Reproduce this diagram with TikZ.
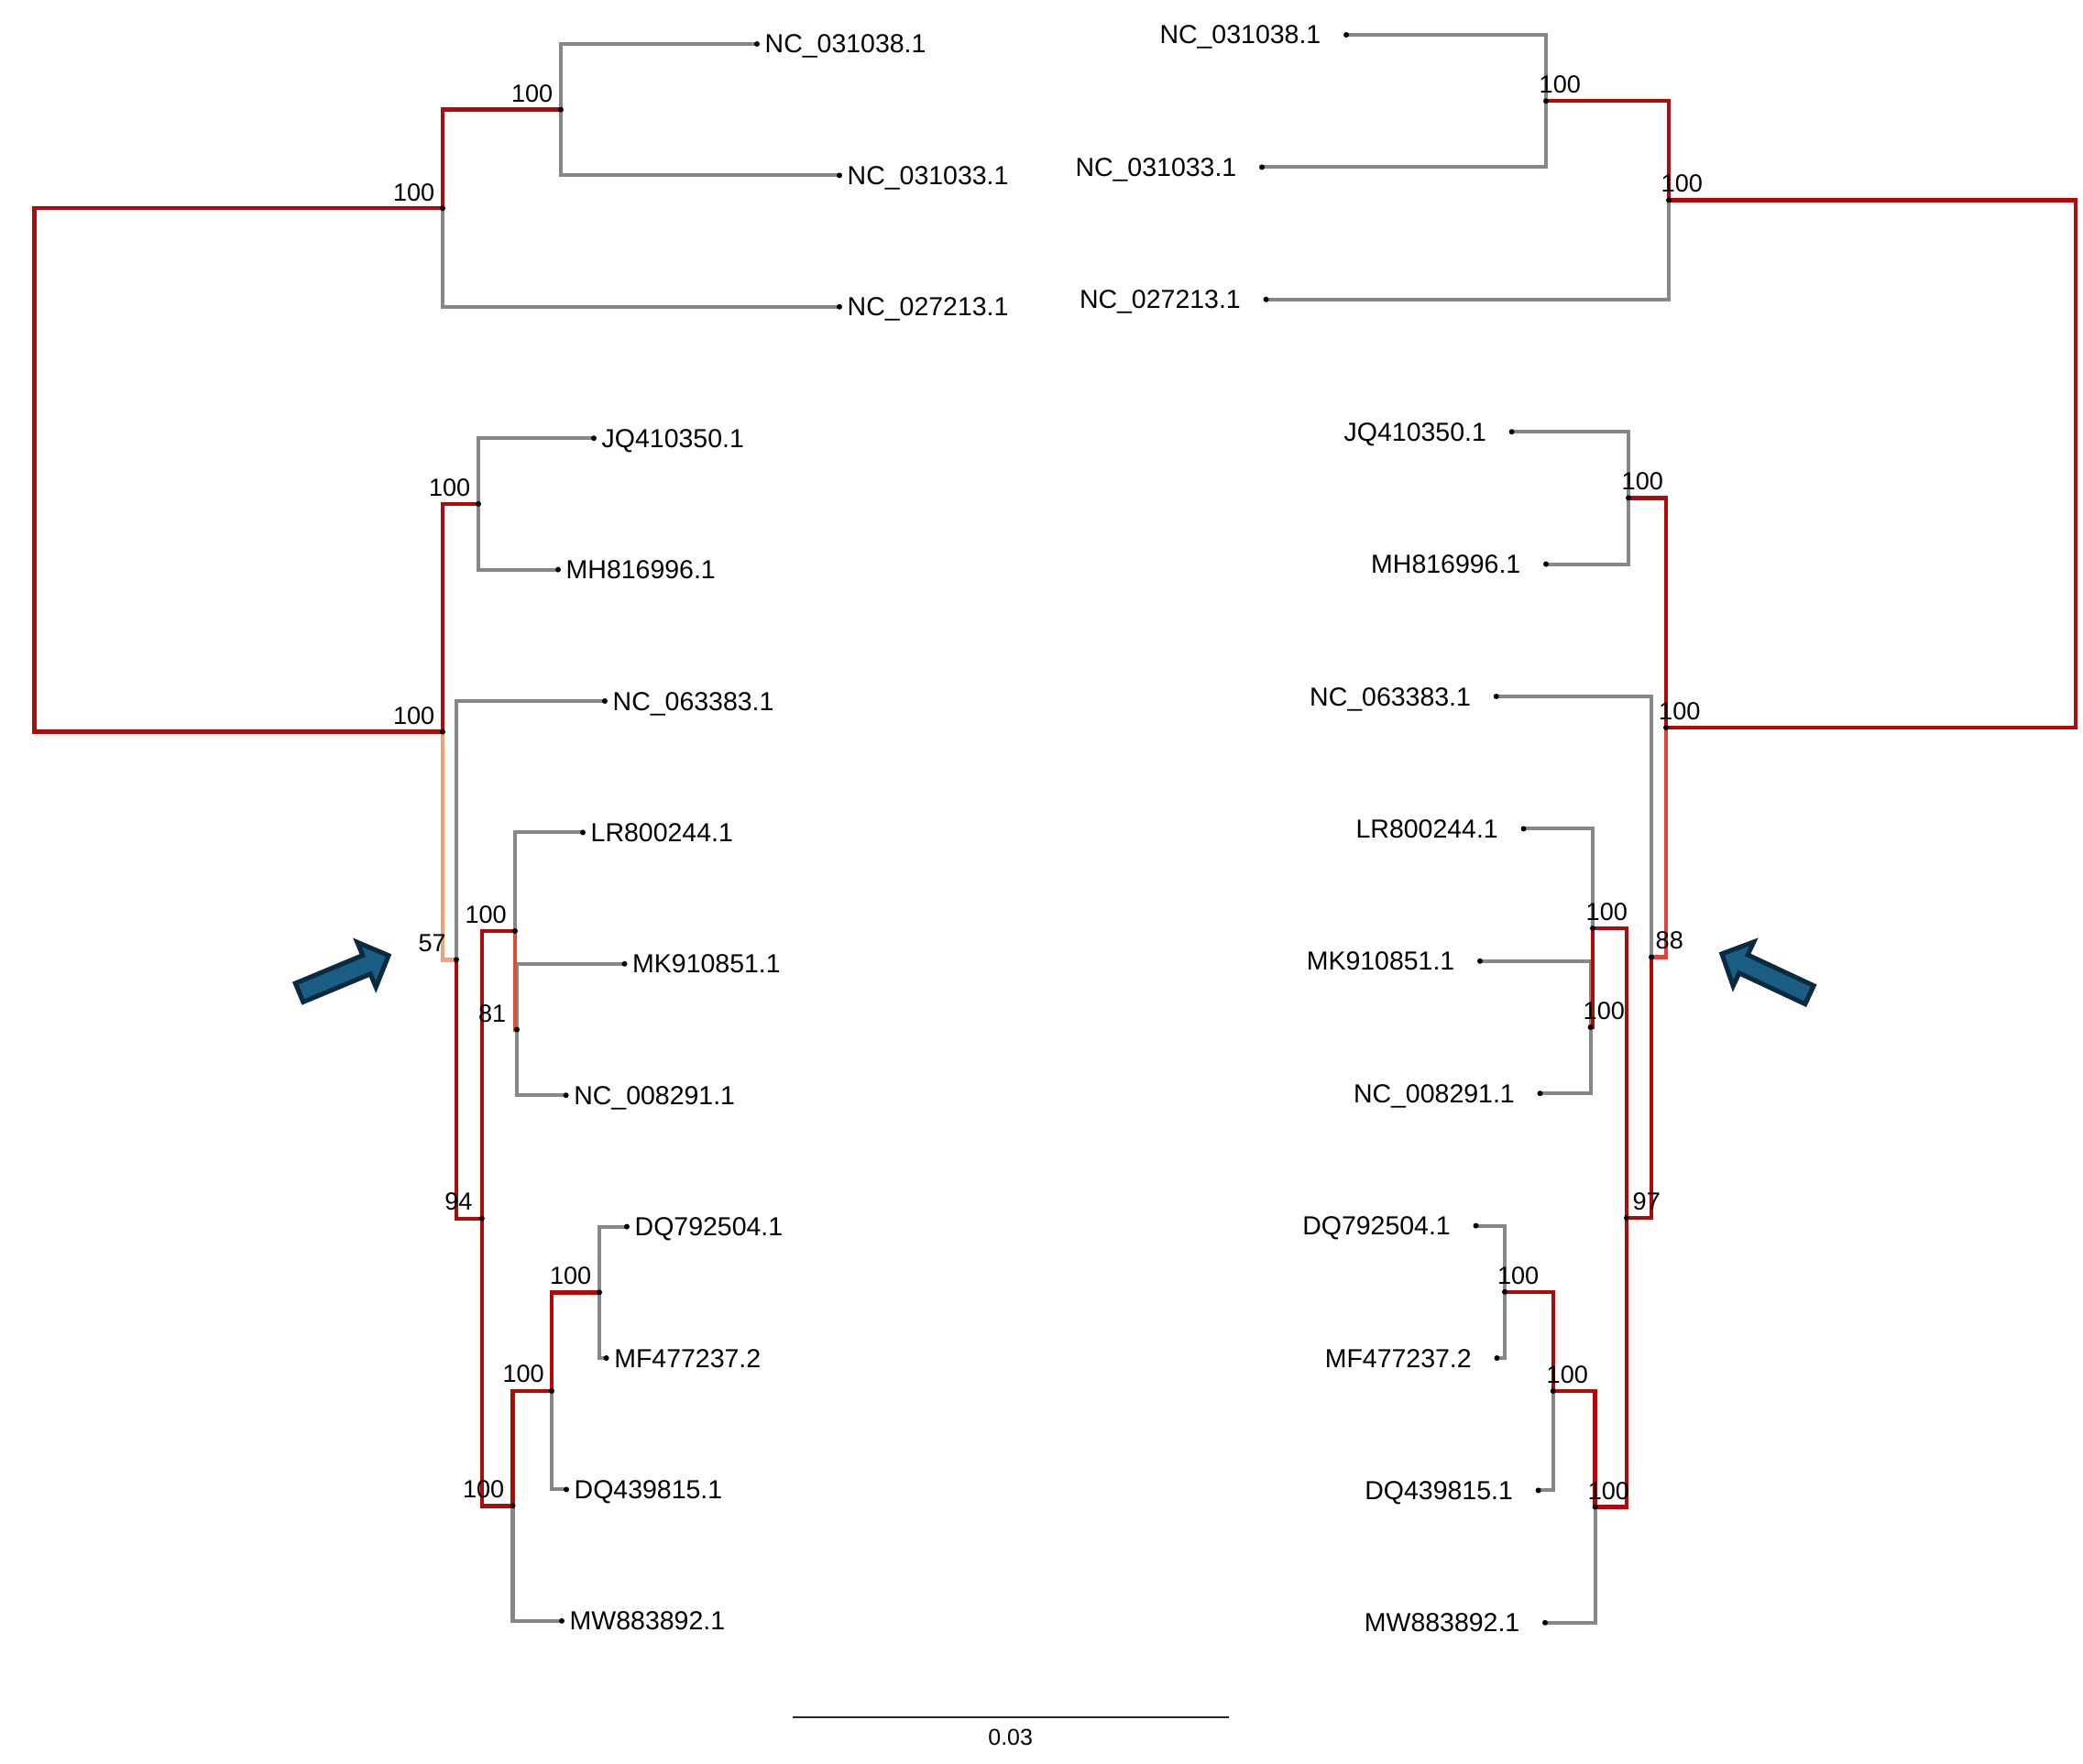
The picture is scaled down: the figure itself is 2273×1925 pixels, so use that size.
\documentclass[tikz,border=0pt]{standalone}
\usepackage{fontspec}
\setmainfont{Liberation Sans}
\definecolor{treered}{HTML}{B00A0A}
\definecolor{treegray}{HTML}{878787}
\definecolor{salmonb}{HTML}{F2A272}
\definecolor{orangeb}{HTML}{DE4E30}
\definecolor{lightred}{HTML}{DE4238}
\definecolor{arrowfill}{HTML}{1B5E84}
\definecolor{arrowline}{HTML}{0B2A3F}
\begin{document}
\begin{tikzpicture}[x=0.01cm,y=-0.01cm,
  rb/.style={line width=1.25pt, draw=treered},
  gb/.style={line width=1.15pt, draw=treegray},
  sb/.style={line width=1.25pt, draw=salmonb},
  ob/.style={line width=1.25pt, draw=orangeb},
  lb/.style={line width=1.25pt, draw=lightred},
  leafL/.style={anchor=base west, inner sep=0pt, font=\fontsize{8.1}{9.7}\selectfont},
  leafR/.style={anchor=base east, inner sep=0pt, font=\fontsize{8.1}{9.7}\selectfont},
  supL/.style={anchor=base east, inner sep=0pt, font=\fontsize{7.7}{9}\selectfont},
  supR/.style={anchor=base west, inner sep=0pt, font=\fontsize{7.7}{9}\selectfont},
  bigarrow/.style={fill=arrowfill, draw=arrowline, line width=1.45pt, line join=miter}]
\useasboundingbox (0,0) rectangle (2273,1925);

% ---------------- left tree ----------------
\coordinate (LR) at (37.5,513);
\coordinate (LA) at (483,227.3);
\coordinate (LB) at (612,119.7);
\coordinate (LC) at (483,798.6);
\coordinate (LD) at (522,549.9);
\coordinate (LE) at (498,1047.3);
\coordinate (LF) at (525.8,1329.7);
\coordinate (LG) at (562,1016);
\coordinate (LH) at (564,1123.5);
\coordinate (LI) at (559.5,1643.3);
\coordinate (LJ) at (602,1517.9);
\coordinate (LK) at (654,1410.3);
\coordinate (l1) at (826,48);
\coordinate (l2) at (916,191.4);
\coordinate (l3) at (916,334.8);
\coordinate (l4) at (648,478.2);
\coordinate (l5) at (609,621.6);
\coordinate (l6) at (660,765);
\coordinate (l7) at (636,908.4);
\coordinate (l8) at (681.5,1051.8);
\coordinate (l9) at (617.6,1195.2);
\coordinate (l10) at (684,1338.6);
\coordinate (l11) at (661.6,1482);
\coordinate (l12) at (618,1625.4);
\coordinate (l13) at (613,1768.8);

\draw[gb] (LA) |- (l3);
\draw[gb] (LB) |- (l1);
\draw[gb] (LB) |- (l2);
\draw[gb] (LD) |- (l4);
\draw[gb] (LD) |- (l5);
\draw[gb] (LE) |- (l6);
\draw[gb] (LG) |- (l7);
\draw[gb] (LH) |- (l8);
\draw[gb] (LH) |- (l9);
\draw[gb] (LK) |- (l10);
\draw[gb] (LK) |- (l11);
\draw[gb] (LJ) |- (l12);
\draw[gb] (LI) |- (l13);
\draw[rb] (LR) |- (LA);
\draw[rb] (LR) |- (LC);
\draw[rb] (LA) |- (LB);
\draw[rb] (LC) |- (LD);
\draw[sb] (LC) |- (LE);
\draw[rb] (LE) |- (LF);
\draw[rb] (LF) |- (LG);
\draw[ob] (LG) |- (LH);
\draw[rb] (LF) |- (LI);
\draw[rb] (LI) |- (LJ);
\draw[rb] (LJ) |- (LK);

\foreach \c in {LA,LB,LC,LD,LE,LF,LG,LH,LI,LJ,LK,l1,l2,l3,l4,l5,l6,l7,l8,l9,l10,l11,l12,l13}
  \fill (\c) circle[radius=0.3mm];

\foreach \c/\t in {l1/NC\_031038.1,l2/NC\_031033.1,l3/NC\_027213.1,l4/JQ410350.1,
  l5/MH816996.1,l6/NC\_063383.1,l7/LR800244.1,l8/MK910851.1,l9/NC\_008291.1,
  l10/DQ792504.1,l11/MF477237.2,l12/DQ439815.1,l13/MW883892.1}
  \path (\c) ++(8,10) node[leafL] (n\c) {\t};

\path (LA) ++(-8,-8) node[supL] (sLA) {100};
\path (LB) ++(-8,-8) node[supL] (sLB) {100};
\path (LC) ++(-8,-8) node[supL] (sLC) {100};
\path (LD) ++(-8,-8) node[supL] (sLD) {100};
\path (LE) ++(-10.5,-8.5) node[supL] (sLE) {57};
\path (LF) ++(-9.6,-9) node[supL] (sLF) {94};
\path (LG) ++(-8.5,-9) node[supL] (sLG) {100};
\path (LH) ++(-11,-8.5) node[supL] (sLH) {81};
\path (LI) ++(-8.5,-8.5) node[supL] (sLI) {100};
\path (LJ) ++(-7.5,-9.5) node[supL] (sLJ) {100};
\path (LK) ++(-8,-9) node[supL] (sLK) {100};

% ---------------- right tree ----------------
\coordinate (RR) at (2265,506);
\coordinate (RA) at (1821,218.5);
\coordinate (RB) at (1687,110.2);
\coordinate (RC) at (1818,794);
\coordinate (RD) at (1777,543.4);
\coordinate (RE) at (1802,1044.5);
\coordinate (RF) at (1775,1329);
\coordinate (RG) at (1738,1013);
\coordinate (RH) at (1735.5,1121);
\coordinate (RI) at (1740.6,1644.4);
\coordinate (RJ) at (1694.7,1518);
\coordinate (RK) at (1642,1409.8);
\coordinate (r1) at (1469,38);
\coordinate (r2) at (1377,182.4);
\coordinate (r3) at (1381.5,326.8);
\coordinate (r4) at (1649.6,471.2);
\coordinate (r5) at (1687,615.6);
\coordinate (r6) at (1632.7,760);
\coordinate (r7) at (1662.5,904.4);
\coordinate (r8) at (1615,1048.8);
\coordinate (r9) at (1680.5,1193.2);
\coordinate (r10) at (1610.5,1337.6);
\coordinate (r11) at (1633.4,1482);
\coordinate (r12) at (1678.6,1626.4);
\coordinate (r13) at (1686,1770.8);

\draw[gb] (RA) |- (r3);
\draw[gb] (RB) |- (r1);
\draw[gb] (RB) |- (r2);
\draw[gb] (RD) |- (r4);
\draw[gb] (RD) |- (r5);
\draw[gb] (RE) |- (r6);
\draw[gb] (RG) |- (r7);
\draw[gb] (RH) |- (r8);
\draw[gb] (RH) |- (r9);
\draw[gb] (RK) |- (r10);
\draw[gb] (RK) |- (r11);
\draw[gb] (RJ) |- (r12);
\draw[gb] (RI) |- (r13);
\draw[rb] (RR) |- (RA);
\draw[rb] (RR) |- (RC);
\draw[rb] (RA) |- (RB);
\draw[rb] (RC) |- (RD);
\draw[lb] (RC) |- (RE);
\draw[rb] (RE) |- (RF);
\draw[rb] (RF) |- (RG);
\draw[rb] (RG) |- (RH);
\draw[rb] (RF) |- (RI);
\draw[rb] (RI) |- (RJ);
\draw[rb] (RJ) |- (RK);

\foreach \c in {RA,RB,RC,RD,RE,RF,RG,RH,RI,RJ,RK,r1,r2,r3,r4,r5,r6,r7,r8,r9,r10,r11,r12,r13}
  \fill (\c) circle[radius=0.3mm];

\foreach \c/\t in {r1/NC\_031038.1,r2/NC\_031033.1,r3/NC\_027213.1,r4/JQ410350.1,
  r5/MH816996.1,r6/NC\_063383.1,r7/LR800244.1,r8/MK910851.1,r9/NC\_008291.1,
  r10/DQ792504.1,r11/MF477237.2,r12/DQ439815.1,r13/MW883892.1}
  \path (\c) ++(-27,10) node[leafR] (n\c) {\t};

\path (RA) ++(-9,-9) node[supR] (sRA) {100};
\path (RB) ++(-8,-8.5) node[supR] (sRB) {100};
\path (RC) ++(-8.5,-9) node[supR] (sRC) {100};
\path (RD) ++(-8,-8.5) node[supR] (sRD) {100};
\path (RE) ++(4,-9.5) node[supR] (sRE) {88};
\path (RF) ++(6,-8.5) node[supR] (sRF) {97};
\path (RG) ++(-8,-9) node[supR] (sRG) {100};
\path (RH) ++(-8.5,-8.5) node[supR] (sRH) {100};
\path (RI) ++(-8.5,-8) node[supR] (sRI) {100};
\path (RJ) ++(-7.7,-8.5) node[supR] (sRJ) {100};
\path (RK) ++(-8.6,-8.8) node[supR] (sRK) {100};

% ---------------- arrows ----------------
\begin{scope}[shift={(324.3,1084.2)},rotate=22.6]
  \draw[bigarrow] (2.5,-11) -- (82,-11) -- (82,-26.5) -- (108,0) -- (82,26.5) -- (82,11) -- (2.5,11) -- cycle;
\end{scope}
\begin{scope}[shift={(1976.7,1086.7)},rotate=154.9]
  \draw[bigarrow] (2.5,-11) -- (82,-11) -- (82,-26.5) -- (108,0) -- (82,26.5) -- (82,11) -- (2.5,11) -- cycle;
\end{scope}

% ---------------- scale bar ----------------
\coordinate (sb1) at (864.5,1874);
\coordinate (sb2) at (1341,1874);
\draw[line width=0.6pt, black!85] (sb1) -- (sb2);
\node[font=\fontsize{7.1}{8.5}\selectfont, inner sep=0pt] (sbl) at (1102.7,1896) {0.03};
\end{tikzpicture}
\end{document}
